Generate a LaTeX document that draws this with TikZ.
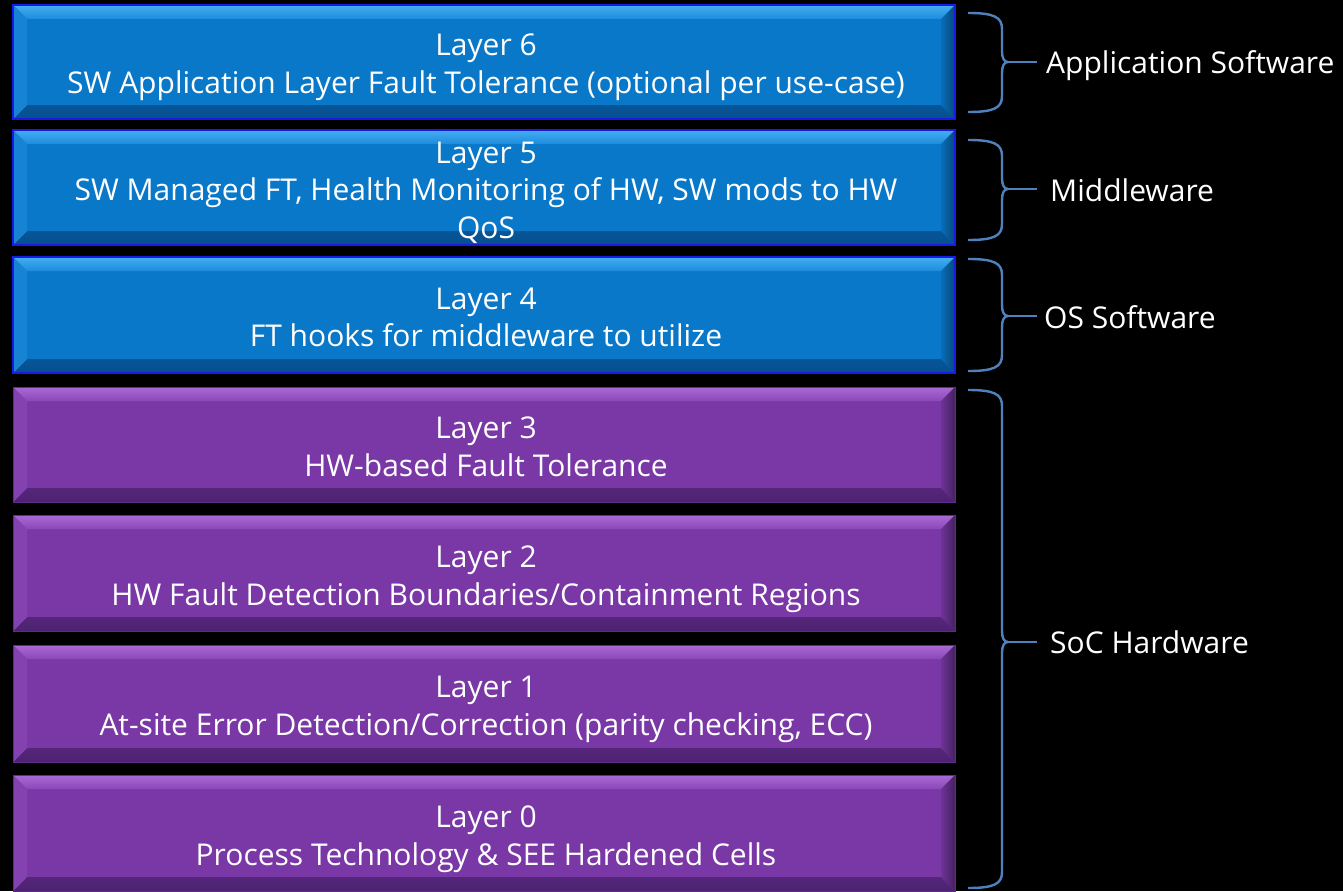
\documentclass[tikz,border=0pt]{standalone}
\usepackage{fontspec}
\setmainfont{Open Sans}
\usetikzlibrary{calc,backgrounds}

% colour schemes for the bevelled layer boxes
\definecolor{bMain}{HTML}{0A78C8}
\definecolor{bTopHi}{HTML}{45AEF2}
\definecolor{bTop}{HTML}{1C8CDC}
\definecolor{bLeft}{HTML}{1684D2}
\definecolor{bRight}{HTML}{0866B0}
\definecolor{bBot}{HTML}{064F8E}
\definecolor{bEdge}{HTML}{1A1AE8}

\definecolor{pMain}{HTML}{7A38A6}
\definecolor{pTopHi}{HTML}{A96AD6}
\definecolor{pTop}{HTML}{8A48B8}
\definecolor{pLeft}{HTML}{8442B0}
\definecolor{pRight}{HTML}{64308C}
\definecolor{pBot}{HTML}{4E2272}
\definecolor{pEdge}{HTML}{5E2C86}

\definecolor{braceblue}{HTML}{4F81BD}

\tikzset{
  layerbox/.style={rectangle, inner sep=0pt, outer sep=0pt,
    minimum width=942pt},
  layertext/.style={text=white, align=center, inner sep=0pt,
    font=\fontsize{30}{37.5}\selectfont},
  sidelabel/.style={anchor=west, text=white, inner sep=0pt,
    font=\fontsize{30}{36}\selectfont},
  bracket/.style={draw=braceblue, line width=2.4pt, line join=round}
}

% body and bevel faces of a box node: #1 node, #2 scheme prefix (b or p), #3 bevel depth
\newcommand\bevelfaces[3]{%
  \fill[#2Main] (#1.north west) rectangle (#1.south east);
  \shade[top color=#2TopHi, bottom color=#2Top]
    (#1.north west) -- (#1.north east) -- ($(#1.north east)+(-#3,#3)$)
    -- ($(#1.north west)+(#3,#3)$) -- cycle;
  \shade[top color=#2Bot!70!#2Right, bottom color=#2Bot]
    (#1.south west) -- (#1.south east) -- ($(#1.south east)+(-#3,-#3)$)
    -- ($(#1.south west)+(#3,-#3)$) -- cycle;
  \fill[#2Left]
    (#1.north west) -- ($(#1.north west)+(#3,#3)$)
    -- ($(#1.south west)+(#3,-#3)$) -- (#1.south west) -- cycle;
  \shade[left color=#2Right!60!#2Main, right color=#2Right!70!black]
    (#1.north east) -- ($(#1.north east)+(-#3,#3)$)
    -- ($(#1.south east)+(-#3,-#3)$) -- (#1.south east) -- cycle;
}

% right-hand curly bracket: #1 top, #2 bottom, #3 point
\newcommand\sidebracket[3]{%
  \draw[bracket] (968,#1) .. controls (994,#1) and (1002,{#1+4}) .. (1002,{#1+16})
    -- (1002,{#3-11}) .. controls (1002,{#3-4}) and (1004,#3) .. (1008,#3)
    .. controls (1004,#3) and (1002,{#3+4}) .. (1002,{#3+11})
    -- (1002,{#2-16}) .. controls (1002,{#2-4}) and (994,#2) .. (968,#2);
  \draw[bracket] (1007,#3) -- (1037,#3);
}

\begin{document}
\begin{tikzpicture}[x=1pt, y=-1pt]
  \useasboundingbox (0,0) rectangle (1343,891);

  % layer boxes (software: L6-L4, hardware: L3-L0)
  \node[layerbox, minimum height=114pt] (L6) at (484,62) {};
  \node[layerbox, minimum height=115pt] (L5) at (484,187.5) {};
  \node[layerbox, minimum height=116pt] (L4) at (484,315) {};
  \node[layerbox, minimum height=115pt] (L3) at (484,444.5) {};
  \node[layerbox, minimum height=116pt] (L2) at (484,573) {};
  \node[layerbox, minimum height=117pt] (L1) at (484,703.5) {};
  \node[layerbox, minimum height=116pt] (L0) at (484,833) {};

  \begin{pgfonlayer}{background}
    \fill[black] (0,0) rectangle (1343,891);
    \foreach \n in {L6,L5,L4}{
      \bevelfaces{\n}{b}{14}
      \draw[bEdge, line width=2.5pt] (\n.north west) rectangle (\n.south east);
    }
    \foreach \n in {L3,L2,L1,L0}{
      \bevelfaces{\n}{p}{14}
      \draw[pEdge, line width=1pt] (\n.north west) rectangle (\n.south east);
    }
  \end{pgfonlayer}

  % layer captions
  \node[layertext] (T6) at ($(L6.center)+(2,5)$)
    {Layer 6\\SW Application Layer Fault Tolerance (optional per use-case)};
  \node[layertext] (T5) at ($(L5.center)+(2,5)$)
    {Layer 5\\SW Managed FT, Health Monitoring of HW, SW mods to HW\\QoS};
  \node[layertext] (T4) at ($(L4.center)+(2,2.5)$)
    {Layer 4\\FT hooks for middleware to utilize};
  \node[layertext] (T3) at ($(L3.center)+(2,2.5)$)
    {Layer 3\\HW-based Fault Tolerance};
  \node[layertext] (T2) at ($(L2.center)+(2,6)$)
    {Layer 2\\HW Fault Detection Boundaries/Containment Regions};
  \node[layertext] (T1) at ($(L1.center)+(2,6)$)
    {Layer 1\\At-site Error Detection/Correction (parity checking, ECC)};
  \node[layertext] (T0) at ($(L0.center)+(2,6)$)
    {Layer 0\\Process Technology \& SEE Hardened Cells};

  % brackets grouping the layers
  \sidebracket{13}{112}{62}
  \sidebracket{140}{240}{189}
  \sidebracket{259}{371}{316}
  \sidebracket{390}{888}{642}

  \node[sidelabel] (app) at (1046,66) {Application Software};
  \node[sidelabel] (mid) at (1050,190) {Middleware};
  \node[sidelabel] (os)  at (1044,317) {OS Software};
  \node[sidelabel] (soc) at (1050,642) {SoC Hardware};
\end{tikzpicture}
\end{document}
